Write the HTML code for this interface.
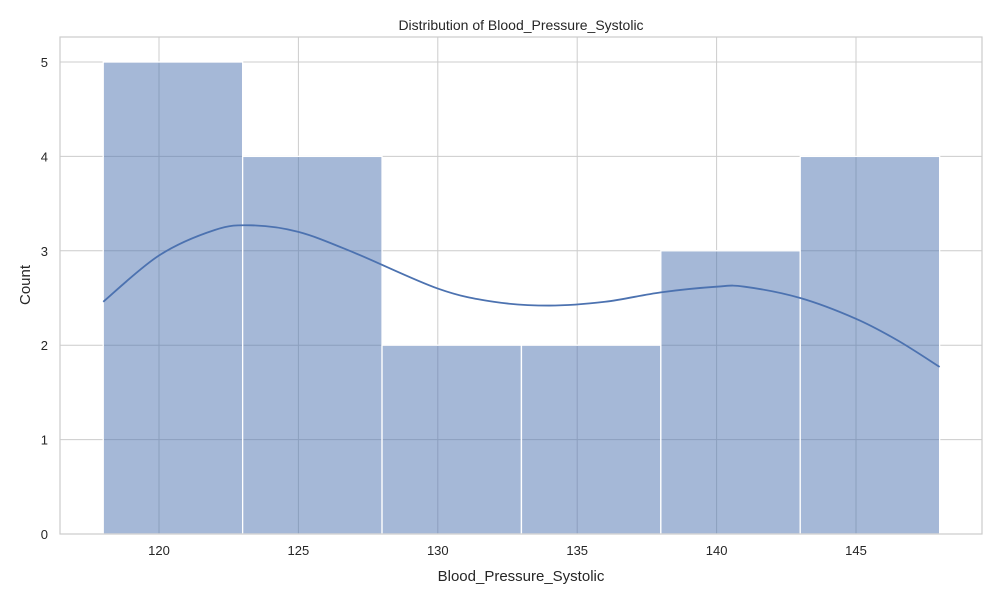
<!DOCTYPE html>
<html><head><meta charset="utf-8"><style>
body{margin:0;background:#fff;font-family:"Liberation Sans","DejaVu Sans",sans-serif;}
</style></head><body>
<svg id="chart" width="1000" height="600" xmlns="http://www.w3.org/2000/svg">
<rect width="1000" height="600" fill="#fff"/>
<g id="grid"></g><g id="bars"></g><g id="kde"></g><g id="axes"></g>
<text x="521" y="30" text-anchor="middle" font-size="14" fill="#262626">Distribution of Blood_Pressure_Systolic</text>
<text x="521" y="581" text-anchor="middle" font-size="15" fill="#262626">Blood_Pressure_Systolic</text>
<text x="30" y="285" text-anchor="middle" font-size="15" fill="#262626" transform="rotate(-90 30 285)">Count</text>
</svg>
<script>
const binEdges=[118,123,128,133,138,143,148];
const counts=[5,4,2,2,3,4];
const xTicks=[120,125,130,135,140,145];
const yTicks=[0,1,2,3,4,5];
const kdeX=[118,120,122,123.3,125,127,130,132,134,136,138,140,141,143,145,146.5,148];
const kdeY=[2.46,2.95,3.22,3.27,3.2,2.98,2.6,2.46,2.42,2.46,2.56,2.62,2.62,2.5,2.28,2.05,1.77];
const L=60,R=982,T=37,B=534;
const sx=v=>159+(v-120)*27.88;
const sy=v=>B-v*94.4;
const NS="http://www.w3.org/2000/svg";
function mk(t,a,p){const e=document.createElementNS(NS,t);for(const k in a)e.setAttribute(k,a[k]);p.appendChild(e);return e;}
const grid=document.getElementById('grid'),bars=document.getElementById('bars'),kde=document.getElementById('kde'),axes=document.getElementById('axes');
xTicks.forEach(v=>{const l=mk('line',{x1:sx(v),x2:sx(v),y1:T,y2:B,stroke:'#cccccc','stroke-width':1},grid);


const t=mk('text',{x:sx(v),y:B+21,'text-anchor':'middle','font-size':13,fill:'#262626'},axes);t.textContent=v;

});
yTicks.forEach(v=>{const l=mk('line',{x1:L,x2:R,y1:sy(v),y2:sy(v),stroke:'#cccccc','stroke-width':1},grid);


const t=mk('text',{x:L-12,y:sy(v)+5,'text-anchor':'end','font-size':13,fill:'#262626'},axes);t.textContent=v;

});
counts.forEach((c,i)=>{const x0=sx(binEdges[i]),x1=sx(binEdges[i+1]);
const r=mk('rect',{x:x0,y:sy(c),width:x1-x0,height:B-sy(c),fill:'rgba(76,114,176,0.5)',stroke:'#fff','stroke-width':1.3},bars);

});
const pts=kdeX.map((x,i)=>[sx(x),sy(kdeY[i])]);
let d='M'+pts[0][0]+','+pts[0][1];
for(let i=0;i<pts.length-1;i++){const p0=pts[i-1]||pts[i],p1=pts[i],p2=pts[i+1],p3=pts[i+2]||p2;
d+=' C'+(p1[0]+(p2[0]-p0[0])/6)+','+(p1[1]+(p2[1]-p0[1])/6)+' '+(p2[0]-(p3[0]-p1[0])/6)+','+(p2[1]-(p3[1]-p1[1])/6)+' '+p2[0]+','+p2[1];}
const k=mk('path',{d:d,fill:'none',stroke:'#4c72b0','stroke-width':1.8},kde);


const f=mk('rect',{x:L,y:T,width:R-L,height:B-T,fill:'none',stroke:'#cccccc','stroke-width':1.2},axes);


</script>
</body></html>
